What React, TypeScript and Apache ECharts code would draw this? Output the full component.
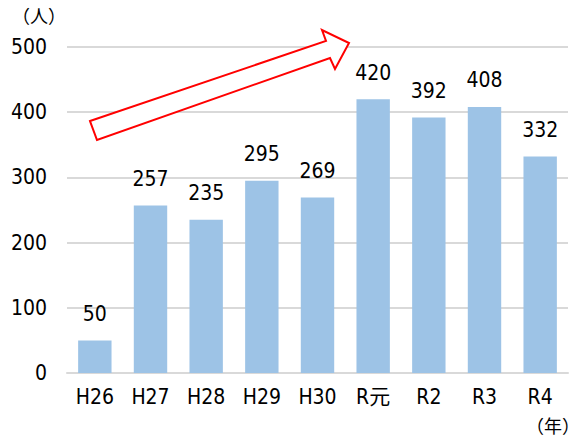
import React, { useEffect, useRef } from "react";
import * as echarts from "echarts";

const categories = ["H26", "H27", "H28", "H29", "H30", "R元", "R2", "R3", "R4"];
const values = [50, 257, 235, 295, 269, 420, 392, 408, 332];
const yTicks = { min: 0, max: 500, interval: 100 };

const FONT = "'DejaVu Sans Condensed', 'Noto Sans CJK JP', sans-serif";
const CJK = "'Noto Sans CJK JP', sans-serif";

export default function App() {
  const ref = useRef<HTMLDivElement>(null);
  useEffect(() => {
    document.body.style.margin = "0";
    const chart = echarts.init(ref.current!, null, { renderer: "svg" });
    chart.setOption({
      animation: false,
      backgroundColor: "#ffffff",
      grid: { left: 67, right: 16, top: 47, bottom: 68 },
      xAxis: {
        type: "category",
        data: categories,
        axisLine: { show: true, lineStyle: { color: "#d9d9d9", width: 2 } },
        axisTick: { show: false },
        axisLabel: { color: "#000", fontSize: 21, fontFamily: FONT, margin: 13 },
      },
      yAxis: {
        type: "value",
        min: yTicks.min,
        max: yTicks.max,
        interval: yTicks.interval,
        axisLine: { show: false },
        axisTick: { show: false },
        splitLine: { lineStyle: { color: "#d9d9d9", width: 2 } },
        axisLabel: { color: "#000", fontSize: 21, fontFamily: FONT, margin: 20 },
      },
      series: [
        {
          type: "bar",
          data: values,
          barWidth: "60%",
          itemStyle: { color: "#9dc3e6" },
          label: {
            show: true,
            position: "top",
            distance: 16,
            color: "#000",
            fontSize: 21,
            fontFamily: FONT,
          },
        },
      ],
      graphic: [
        {
          type: "text",
          left: 12,
          top: 6,
          style: { text: "（人）", fill: "#000", font: `18px ${CJK}` },
        },
        {
          type: "text",
          left: 526,
          top: 416,
          style: { text: "（年）", fill: "#000", font: `18px ${CJK}` },
        },
        {
          type: "polygon",
          shape: {
            points: [
              [90, 121],
              [326, 41],
              [322, 30],
              [349, 43],
              [335, 69],
              [330, 58],
              [97, 140],
            ],
          },
          style: { fill: "#ffffff", stroke: "#ff0000", lineWidth: 2 },
          z: 10,
        },
      ],
    });
    return () => chart.dispose();
  }, []);
  return (
    <div
      ref={ref}
      style={{ width: 584, height: 441, position: "absolute", left: 0, top: 0 }}
    />
  );
}
